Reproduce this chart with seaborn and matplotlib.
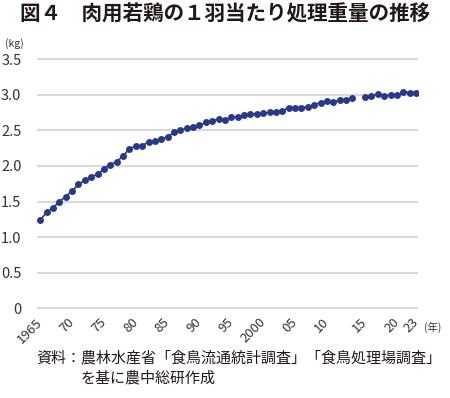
import numpy as np
import pandas as pd
import matplotlib
matplotlib.use('Agg')
import matplotlib.pyplot as plt
import seaborn as sns

# 食鳥流通統計調査 (old survey) and 食鳥処理場調査 (new survey), kg per bird
years_old = list(range(1965, 2015))
weight_old = [1.24, 1.35, 1.41, 1.50, 1.57, 1.65, 1.74, 1.80, 1.85, 1.88,
              1.96, 2.02, 2.06, 2.14, 2.24, 2.28, 2.28, 2.34, 2.35, 2.38,
              2.41, 2.47, 2.50, 2.53, 2.55, 2.57, 2.61, 2.63, 2.66, 2.64,
              2.69, 2.69, 2.72, 2.73, 2.73, 2.74, 2.75, 2.76, 2.77, 2.82,
              2.82, 2.82, 2.83, 2.86, 2.89, 2.91, 2.90, 2.92, 2.92, 2.96]
years_new = list(range(2015, 2024))
weight_new = [2.97, 2.98, 3.01, 2.98, 3.00, 2.99, 3.04, 3.03, 3.03]

tick_years = [1965, 1970, 1975, 1980, 1985, 1990, 1995, 2000, 2005, 2010, 2015, 2020, 2023]
tick_labels = ['1965', '70', '75', '80', '85', '90', '95', '2000', '05', '10', '15', '20', '23']
y_ticks = [0, 0.5, 1.0, 1.5, 2.0, 2.5, 3.0, 3.5]
y_labels = ['0', '0.5', '1.0', '1.5', '2.0', '2.5', '3.0', '3.5']

# category axis: one empty slot between the two surveys
slot = {y: i for i, y in enumerate(years_old)}
slot.update({y: i + len(years_old) + 1 for i, y in enumerate(years_new)})

df_old = pd.DataFrame({'pos': [slot[y] for y in years_old], 'kg': weight_old})
df_new = pd.DataFrame({'pos': [slot[y] for y in years_new], 'kg': weight_new})

sns.set_theme(style='white')
plt.rcParams['font.family'] = ['Noto Sans CJK JP', 'DejaVu Sans']

navy = '#27398c'
txt = '#333333'

fig = plt.figure(figsize=(4.5, 3.98), dpi=100)
ax = fig.add_axes([0.0816, 0.2196, 0.8473, 0.6374])

for d in (df_old, df_new):
    sns.lineplot(data=d, x='pos', y='kg', ax=ax, color=navy, lw=1.2,
                 marker='o', markersize=5, markeredgewidth=0, zorder=3)

ax.set_xlim(-0.55, 59.3)
ax.set_ylim(-0.03, 3.53)
ax.set_yticks(y_ticks)
ax.set_yticklabels(y_labels, fontsize=10.5, color=txt)
ax.set_xticks([slot[y] for y in tick_years])
ax.set_xticklabels(tick_labels, fontsize=9.5, color=txt)
ax.tick_params(axis='y', length=0, pad=11)
ax.tick_params(axis='x', length=0, pad=7)
plt.setp(ax.get_xticklabels(), rotation=45, ha='right', va='center',
         rotation_mode='anchor')
ax.set_xlabel('')
ax.set_ylabel('')
for s in ax.spines.values():
    s.set_visible(False)
ax.grid(False)
for v in y_ticks:
    ax.axhline(v, color='#d9d9d9', lw=1.5, zorder=1)

fig.text(0.5, 0.965, '図４\u3000肉用若鶏の１羽当たり処理重量の推移', ha='center', va='center',
         fontsize=14.8, fontweight='bold', color='#231815')
fig.text(0.012, 0.89, '(kg)', fontsize=7.5, color=txt, va='center')
fig.text(0.943, 0.178, '(年)', fontsize=7.5, color=txt, va='center')
fig.text(0.08, 0.10, '資料：農林水産省「食鳥流通統計調査」「食鳥処理場調査」', fontsize=10.8,
         color='#231815', va='center')
fig.text(0.18, 0.05, 'を基に農中総研作成', fontsize=10.8, color='#231815', va='center')

fig.savefig('out.png', dpi=100)
